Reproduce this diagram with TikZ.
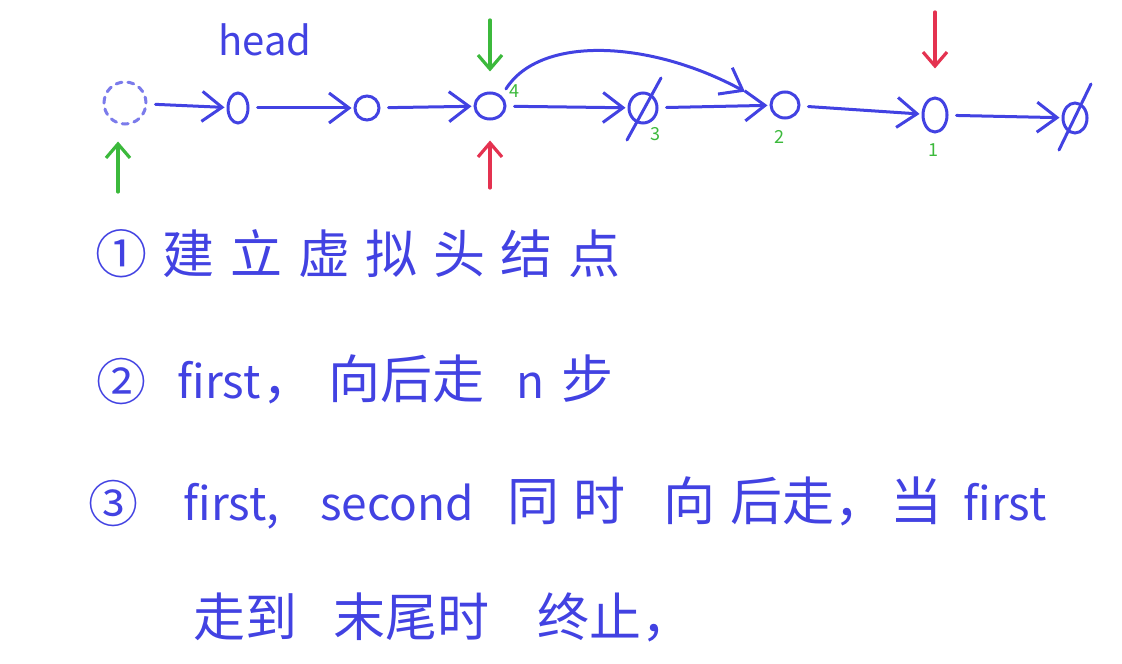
\documentclass[tikz,border=0pt]{standalone}
\usepackage{fontspec}
\setmainfont{Noto Sans CJK SC}
\newfontfamily\zh[LetterSpace=30]{Noto Sans CJK SC}
\usetikzlibrary{arrows.meta,shapes.geometric}
\definecolor{pen}{RGB}{66,66,226}
\definecolor{pengreen}{RGB}{60,185,60}
\definecolor{penred}{RGB}{228,50,80}
\tikzset{
  ink/.style={draw=pen, line width=1.5pt, line cap=round},
  listnode/.style={ink, ellipse, inner sep=0pt},
  link/.style={ink, -{Straight Barb[length=10pt,width=15pt]}, shorten <=4pt},
  ptr/.style={line width=1.6pt, line cap=round, -{Straight Barb[length=7pt,width=12pt]}},
  cnt/.style={text=pengreen, font=\fontsize{9}{9}\selectfont, inner sep=0pt},
  noteline/.style={text=pen, anchor=base west, font=\fontsize{26}{26}\selectfont, inner sep=0pt},
  latin/.style={noteline, font=\fontsize{23}{23}\selectfont},
  circnum/.style={noteline, font=\fontsize{25}{25}\selectfont}
}
\begin{document}
\begin{tikzpicture}[x=0.5pt, y=-0.5pt]
  \useasboundingbox (0,0) rectangle (1122,663);
  % the list
  \node[listnode, circle, dashed, draw=pen!70, minimum size=21pt] (d) at (125,103) {};
  \node[listnode, minimum width=10pt, minimum height=15pt] (h) at (238,108) {};
  \node[listnode, circle, minimum size=12pt] (n2) at (367,108) {};
  \node[listnode, minimum width=15pt, minimum height=13pt] (n3) at (490,106) {};
  \node[listnode, minimum width=14pt, minimum height=15pt] (n4) at (643,108) {};
  \node[listnode, minimum width=14pt, minimum height=13pt] (n5) at (785,105) {};
  \node[listnode, minimum width=12pt, minimum height=17pt] (n6) at (935,115) {};
  \node[listnode, minimum width=12pt, minimum height=15pt] (nul) at (1075,118) {};
  \draw[ink] ([shift={(-8pt,-16pt)}]n4.center) -- ([shift={(9pt,15pt)}]n4.center);
  \draw[ink] ([shift={(-8pt,-16pt)}]nul.center) -- ([shift={(8pt,17pt)}]nul.center);
  \node[text=pen, font=\fontsize{20}{20}\selectfont] (hl) at (265,40) {head};
  \foreach \a/\b in {d/h, h/n2, n2/n3, n3/n4, n4/n5, n5/n6, n6/nul}
    \draw[link, shorten >=1pt] (\a) -- (\b);
  \draw[link, shorten >=14pt] (n3.north east) .. controls (540,35) and (650,40) .. (n5.west);
  % counting from the end
  \node[cnt] (c4) at (514,91) {4};
  \node[cnt] (c3) at (655,134) {3};
  \node[cnt] (c2) at (779,137) {2};
  \node[cnt] (c1) at (933,150) {1};
  % first / second
  \coordinate (gb) at (118,192);
  \coordinate (gt) at (490,20);
  \coordinate (rb) at (490,188);
  \coordinate (rt) at (935,12);
  \draw[ptr, draw=pengreen, shorten >=8pt] (gb) -- (gb |- d.south);
  \draw[ptr, draw=pengreen, shorten >=10pt] (gt) -- (n3.north);
  \draw[ptr, draw=penred, shorten >=10pt] (rb) -- (n3.south);
  \draw[ptr, draw=penred, shorten >=14pt] (rt) -- (n6.north);
  % steps
  \node[noteline] (s1) at (95,273) {{\zh ①建立虚拟头结点}};
  \node[circnum] (s2) at (96,400) {②};
  \node[latin] (s2-f) at (177,398) {first};
  \node[latin] (s2-n) at (516,398) {n};
  \foreach \x/\t [count=\i] in {262/，, 328/向后走, 561/步}
    \node[noteline] (s2-\i) at (\x,398) {\t};
  \node[circnum] (s3) at (88,522) {③};
  \foreach \x/\t [count=\i] in {183/{first,}, 320/second, 963/first}
    \node[latin] (s3-l\i) at (\x,520) {\t};
  \foreach \x/\t [count=\i] in {507/同, 573/时, 663/向, 730/后走，, 890/当}
    \node[noteline] (s3-\i) at (\x,520) {\t};
  \foreach \x/\t [count=\i] in {193/走到, 333/末尾时, 537/终止，}
    \node[noteline] (s4-\i) at (\x,636) {\t};
\end{tikzpicture}
\end{document}
